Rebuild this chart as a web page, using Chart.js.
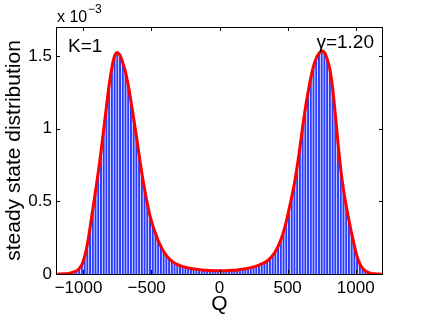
<!DOCTYPE html>
<html>
<head>
<meta charset="utf-8">
<script src="https://cdn.jsdelivr.net/npm/chart.js@4/dist/chart.umd.min.js"></script>
<style>
  body { margin: 0; background: #fff; }
</style>
</head>
<body>
<canvas id="myChart" width="423" height="319"></canvas>
<script>
// bin centres of Q
const qBins = [
  -1190, -1170, -1150, -1130, -1110, -1090, -1070, -1050, -1030, -1010,
  -990, -970, -950, -930, -910, -890, -870, -850, -830, -810,
  -790, -770, -750, -730, -710, -690, -670, -650, -630, -610,
  -590, -570, -550, -530, -510, -490, -470, -450, -430, -410,
  -390, -370, -350, -330, -310, -290, -270, -250, -230, -210,
  -190, -170, -150, -130, -110, -90, -70, -50, -30, -10,
  10, 30, 50, 70, 90, 110, 130, 150, 170, 190,
  210, 230, 250, 270, 290, 310, 330, 350, 370, 390,
  410, 430, 450, 470, 490, 510, 530, 550, 570, 590,
  610, 630, 650, 670, 690, 710, 730, 750, 770, 790,
  810, 830, 850, 870, 890, 910, 930, 950, 970, 990,
  1010, 1030, 1050, 1070, 1090, 1110, 1130, 1150, 1170, 1190
];
// steady state distribution, in units of 1e-3
const density = [
  0.000, 0.000, 0.001, 0.002, 0.004, 0.008, 0.014, 0.022, 0.037, 0.065,
  0.120, 0.205, 0.320, 0.445, 0.570, 0.700, 0.840, 0.995, 1.150, 1.300,
  1.420, 1.500, 1.525, 1.505, 1.455, 1.390, 1.300, 1.190, 1.070, 0.950,
  0.820, 0.695, 0.585, 0.485, 0.400, 0.335, 0.280, 0.230, 0.190, 0.155,
  0.128, 0.106, 0.089, 0.076, 0.066, 0.058, 0.051, 0.046, 0.042, 0.038,
  0.035, 0.032, 0.030, 0.028, 0.026, 0.025, 0.024, 0.023, 0.023, 0.022,
  0.022, 0.023, 0.023, 0.024, 0.025, 0.026, 0.028, 0.031, 0.033, 0.036,
  0.040, 0.044, 0.048, 0.054, 0.061, 0.069, 0.078, 0.090, 0.106, 0.128,
  0.155, 0.190, 0.235, 0.290, 0.360, 0.445, 0.530, 0.625, 0.740, 0.870,
  1.010, 1.140, 1.250, 1.350, 1.430, 1.485, 1.518, 1.535, 1.525, 1.480,
  1.410, 1.280, 1.100, 0.900, 0.720, 0.580, 0.470, 0.370, 0.280, 0.195,
  0.120, 0.070, 0.040, 0.022, 0.011, 0.005, 0.002, 0.001, 0.000, 0.000
];
const xTicks = [-1000, -500, 0, 500, 1000];
const yTicks = [0, 0.5, 1, 1.5];

const points = qBins.map((q, i) => ({ x: q, y: density[i] }));
const FONT = "'Liberation Sans', Arial, Helvetica, sans-serif";

// box round the plot with inward ticks, plus the text notes
const axisBox = {
  id: 'axisBox',
  afterDraw(chart) {
    const { ctx, chartArea: a, scales } = chart;
    const x = scales.x, y = scales.y;
    const len = 4;
    ctx.save();
    ctx.strokeStyle = '#000';
    ctx.lineWidth = 1;
    ctx.strokeRect(a.left + 0.5, a.top + 0.5, a.right - a.left - 1, a.bottom - a.top);
    ctx.beginPath();
    xTicks.forEach(v => {
      const px = Math.round(x.getPixelForValue(v)) + 0.5;
      ctx.moveTo(px, a.bottom); ctx.lineTo(px, a.bottom - len);
      ctx.moveTo(px, a.top); ctx.lineTo(px, a.top + len);
    });
    yTicks.forEach(v => {
      const py = Math.round(y.getPixelForValue(v)) + 0.5;
      ctx.moveTo(a.left, py); ctx.lineTo(a.left + len, py);
      ctx.moveTo(a.right, py); ctx.lineTo(a.right - len, py);
    });
    ctx.stroke();

    ctx.fillStyle = '#000';
    ctx.textBaseline = 'alphabetic';
    ctx.textAlign = 'left';
    ctx.font = '16px ' + FONT;
    ctx.fillText('x 10', a.left + 1, a.top - 5);
    ctx.font = '12px ' + FONT;
    ctx.fillText('\u22123', a.left + 32, a.top - 14);
    ctx.font = '19px ' + FONT;
    ctx.fillText('K=1', a.left + 12, a.top + 25);
    ctx.textAlign = 'right';
    ctx.fillText('\u03b3=1.20', a.right - 9, a.top + 21);
    ctx.restore();
  }
};

new Chart(document.getElementById('myChart'), {
  type: 'bar',
  data: {
    datasets: [
      {
        type: 'line',
        data: points,
        borderColor: '#ff0000',
        borderWidth: 3,
        pointRadius: 0,
        tension: 0.3,
        order: 0
      },
      {
        type: 'bar',
        data: points,
        backgroundColor: '#2a3cff',
        borderWidth: 0,
        barPercentage: 0.72,
        categoryPercentage: 1,
        order: 1
      }
    ]
  },
  options: {
    responsive: false,
    animation: false,
    devicePixelRatio: 1,
    layout: { padding: { top: 27, right: 40, left: 0, bottom: 0 } },
    plugins: { legend: { display: false }, tooltip: { enabled: false } },
    scales: {
      x: {
        type: 'linear',
        min: -1200,
        max: 1200,
        offset: false,
        grid: { display: false, drawTicks: false },
        border: { display: false },
        afterBuildTicks: s => { s.ticks = xTicks.map(v => ({ value: v })); },
        afterFit: s => { s.height = 45; },
        ticks: {
          padding: 4,
          color: '#000',
          maxRotation: 0,
          font: { family: FONT, size: 17 },
          callback: v => v < 0 ? '\u2212' + Math.abs(v) + '  ' : String(v)
        },
        title: {
          display: true,
          text: 'Q',
          color: '#000',
          font: { family: FONT, size: 21 },
          padding: { top: 0, bottom: 2 }
        }
      },
      y: {
        min: 0,
        max: 1.7,
        grid: { display: false, drawTicks: false },
        border: { display: false },
        afterBuildTicks: s => { s.ticks = yTicks.map(v => ({ value: v })); },
        afterFit: s => { s.width = 56; },
        ticks: {
          padding: 4,
          color: '#000',
          font: { family: FONT, size: 17 },
          callback: v => String(v)
        },
        title: {
          display: true,
          text: 'steady state distribution',
          color: '#000',
          font: { family: FONT, size: 21 },
          padding: { top: 2, bottom: 0 }
        }
      }
    }
  },
  plugins: [axisBox]
});
</script>
</body>
</html>
